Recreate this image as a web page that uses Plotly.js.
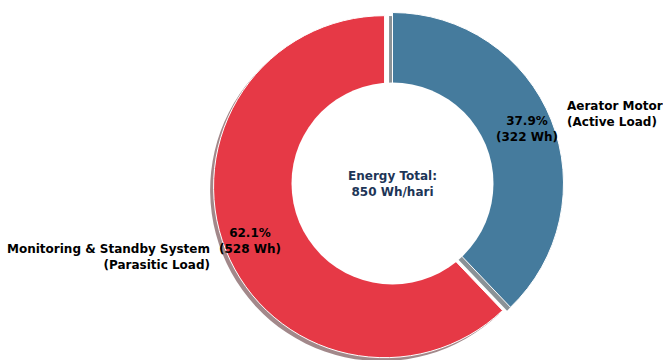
<!DOCTYPE html>
<html>
<head>
<meta charset="utf-8">
<script src="https://cdn.plot.ly/plotly-3.0.1.min.js"></script>
<style>
  html, body { margin: 0; padding: 0; background: #ffffff; overflow: hidden; }
  #chart { width: 663px; height: 400px; }
</style>
</head>
<body>
<div id="chart"></div>
<script>
// ---- data ----
const categories = ['Aerator Motor', 'Monitoring & Standby System'];
const subLabels = ['(Active Load)', '(Parasitic Load)'];
const energyWh = [322, 528];
const sliceColors = ['#457B9D', '#E63946'];
const pulls = [0, 0.05];
const centerTitle = 'Energy Total:';
const centerUnit = 'Wh/hari';

// ---- geometry (pixels) ----
const W = 663, H = 400;
const cx = 392.5, cy = 183.5, R = 171;
const holeR = 101;
const shadowOff = 0.02 * R;
const maxPull = Math.max(...pulls);
const half = R * (1 + maxPull);

function px2x(px) { return px / W; }
function py2y(py) { return 1 - py / H; }

const total = energyWh.reduce((a, b) => a + b, 0);

function shadowColor(hex) {
  const r = parseInt(hex.slice(1, 3), 16), g = parseInt(hex.slice(3, 5), 16), b = parseInt(hex.slice(5, 7), 16);
  return 'rgba(' + Math.round(0.3 * r) + ',' + Math.round(0.3 * g) + ',' + Math.round(0.3 * b) + ',0.5)';
}

const mainDomain = { x: [px2x(cx - half), px2x(cx + half)], y: [py2y(cy + half), py2y(cy - half)] };
const shDomain = {
  x: [px2x(cx - half - shadowOff), px2x(cx + half - shadowOff)],
  y: [py2y(cy + half + shadowOff), py2y(cy - half + shadowOff)]
};

const shadowTrace = {
  type: 'pie', values: energyWh, labels: categories, sort: false, direction: 'clockwise', rotation: 0,
  pull: pulls, domain: shDomain, textinfo: 'none', hoverinfo: 'skip', showlegend: false,
  marker: { colors: sliceColors.map(shadowColor), line: { width: 0 } }
};
const mainTrace = {
  type: 'pie', values: energyWh, labels: categories, sort: false, direction: 'clockwise', rotation: 0,
  pull: pulls, domain: mainDomain, textinfo: 'none', showlegend: false,
  marker: { colors: sliceColors, line: { color: '#ffffff', width: 1 } }
};

// ---- annotations computed from slice angles (clockwise from 12 o'clock) ----
const annotations = [];
let startDeg = 90;
const font = { family: 'DejaVu Sans', size: 12, color: '#000000' };
energyWh.forEach((v, i) => {
  const frac = v / total;
  const mid = (startDeg - frac * 180) * Math.PI / 180;
  startDeg -= frac * 360;
  const c = Math.cos(mid), s = Math.sin(mid);
  const ox = cx + pulls[i] * R * c, oy = cy - pulls[i] * R * s;
  const lx = ox + 1.1 * R * c, ly = oy - 1.1 * R * s;
  annotations.push({
    xref: 'paper', yref: 'paper', x: px2x(lx), y: py2y(ly),
    xanchor: c > 0 ? 'left' : 'right', yanchor: 'middle', align: c > 0 ? 'left' : 'right',
    showarrow: false, text: '<b>' + categories[i] + '<br>' + subLabels[i] + '</b>', font: font,
    xshift: c > 0 ? -2 : 2
  });
  const tx = ox + 0.85 * R * c, ty = oy - 0.85 * R * s;
  annotations.push({
    xref: 'paper', yref: 'paper', x: px2x(tx), y: py2y(ty), xanchor: 'center', yanchor: 'middle', align: 'center',
    showarrow: false, text: '<b>' + (frac * 100).toFixed(1) + '%<br>(' + v + ' Wh)</b>', font: font
  });
});
annotations.push({
  xref: 'paper', yref: 'paper', x: px2x(cx), y: py2y(cy), xanchor: 'center', yanchor: 'middle', align: 'center',
  showarrow: false, text: '<b>' + centerTitle + '<br>' + total + ' ' + centerUnit + '</b>',
  font: { family: 'DejaVu Sans', size: 12, color: '#1D3557' }
});

const layout = {
  width: W, height: H,
  margin: { l: 0, r: 0, t: 0, b: 0 },
  paper_bgcolor: '#ffffff', plot_bgcolor: '#ffffff',
  showlegend: false,
  shapes: [{
    type: 'circle', layer: 'above', xref: 'paper', yref: 'paper',
    xsizemode: 'pixel', ysizemode: 'pixel', xanchor: px2x(cx), yanchor: py2y(cy),
    x0: -holeR, x1: holeR, y0: -holeR, y1: holeR,
    fillcolor: '#ffffff', line: { width: 0 }
  }],
  annotations: annotations
};

Plotly.newPlot('chart', [shadowTrace, mainTrace], layout, { displayModeBar: false, staticPlot: true });
</script>
</body>
</html>
